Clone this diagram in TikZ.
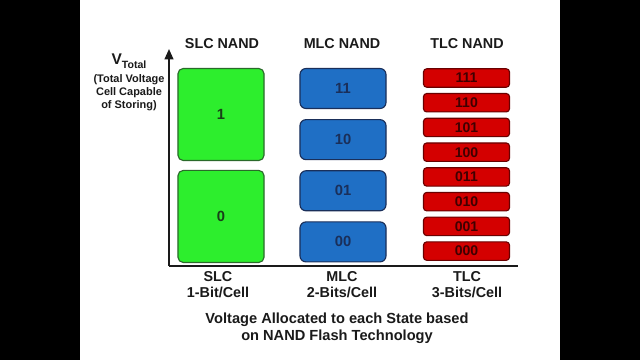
\documentclass[tikz,border=0pt]{standalone}
\usepackage{fontspec}
\setmainfont{Liberation Sans}
\usepackage{xcolor}
\definecolor{cellGreen}{HTML}{2DEE2D}
\definecolor{cellGreenDark}{HTML}{2A6A2A}
\definecolor{cellBlue}{HTML}{1F6FC5}
\definecolor{cellBlueDark}{HTML}{1A2F5A}
\definecolor{cellRed}{HTML}{D40000}
\definecolor{cellRedDark}{HTML}{6A0000}
\definecolor{textDark}{HTML}{1A1A1A}
\usepackage{tikz}
\usetikzlibrary{arrows.meta,positioning}
\tikzset{
    slcbox/.style={
        draw=cellGreenDark,
        fill=cellGreen,
        rectangle,
        rounded corners=1.3mm,
        minimum width=2.15cm,
        minimum height=2.3cm,
        line width=0.8pt,
        text=cellGreenDark!60!black,
        font=\bfseries\fontsize{10.5}{12}\selectfont
    },
    mlcbox/.style={
        draw=cellBlueDark,
        fill=cellBlue,
        rectangle,
        rounded corners=1.5mm,
        minimum width=2.15cm,
        minimum height=1.0cm,
        line width=0.8pt,
        text=cellBlueDark,
        font=\bfseries\fontsize{10.5}{12}\selectfont
    },
    tlcbox/.style={
        draw=cellRedDark,
        fill=cellRed,
        rectangle,
        rounded corners=0.8mm,
        minimum width=2.15cm,
        minimum height=0.46cm,
        inner sep=0pt,
        line width=0.8pt,
        text=cellRedDark!60!black,
        font=\bfseries\fontsize{10}{12}\selectfont
    },
    heading/.style={
        font=\bfseries\fontsize{10.2}{11.5}\selectfont,
        text=textDark,
        align=center,
        inner sep=0pt
    },
    note/.style={
        font=\bfseries\fontsize{7.8}{9.2}\selectfont,
        text=textDark,
        align=center,
        inner sep=0pt
    },
    caption/.style={
        font=\bfseries\fontsize{10.4}{12.2}\selectfont,
        text=textDark,
        align=center,
        inner sep=0pt
    },
    axis/.style={
        line width=1.3pt,
        color=textDark
    }
}

\begin{document}
\begin{tikzpicture}[x=0.025cm, y=-0.025cm]
    % Frame
    \fill[black] (0,0) rectangle (640,360);
    \fill[white] (80,0) rectangle (560,360);
    \useasboundingbox (0,0) rectangle (640,360);

    % Axes
    \coordinate (origin) at (169,266);
    \coordinate (ytop) at (169,49);
    \coordinate (xend) at (518,266);
    \draw[axis, -{Triangle[length=2.6mm, width=2.2mm]}] (origin) -- (ytop);
    \draw[axis] (origin) -- (xend);

    % SLC cells
    \node[slcbox] (s1) at (221,114.5) {1};
    \node[slcbox, below=2.2mm of s1] (s0) {0};

    % MLC cells
    \node[mlcbox] (m11) at (343,88.5) {11};
    \node[mlcbox, below=2.5mm of m11] (m10) {10};
    \node[mlcbox, below=2.5mm of m10] (m01) {01};
    \node[mlcbox, below=2.5mm of m01] (m00) {00};

    % TLC cells
    \node[tlcbox] (t111) at (466.5,78) {111};
    \node[tlcbox, below=1.3mm of t111] (t110) {110};
    \node[tlcbox, below=1.3mm of t110] (t101) {101};
    \node[tlcbox, below=1.3mm of t101] (t100) {100};
    \node[tlcbox, below=1.3mm of t100] (t011) {011};
    \node[tlcbox, below=1.3mm of t011] (t010) {010};
    \node[tlcbox, below=1.3mm of t010] (t001) {001};
    \node[tlcbox, below=1.3mm of t001] (t000) {000};

    % Column titles
    \node[heading] (slctitle) at (222,44) {SLC NAND};
    \node[heading] (mlctitle) at (342,44) {MLC NAND};
    \node[heading] (tlctitle) at (467,44) {TLC NAND};

    % Y-axis label
    \node[heading, font=\bfseries\fontsize{11}{12}\selectfont] (vlabel) at (129,61)
        {V\raisebox{-0.45ex}{\fontsize{7.5}{8}\selectfont Total}};
    \node[note] (vnote) at (129,93) {(Total Voltage\\Cell Capable\\of Storing)};

    % Column labels
    \node[heading] (slclabel) at (218,285) {SLC\\1-Bit/Cell};
    \node[heading] (mlclabel) at (342,285) {MLC\\2-Bits/Cell};
    \node[heading] (tlclabel) at (467,285) {TLC\\3-Bits/Cell};

    % Caption
    \node[caption] (caption) at (337,328.5)
        {Voltage Allocated to each State based\\on NAND Flash Technology};
\end{tikzpicture}
\end{document}
